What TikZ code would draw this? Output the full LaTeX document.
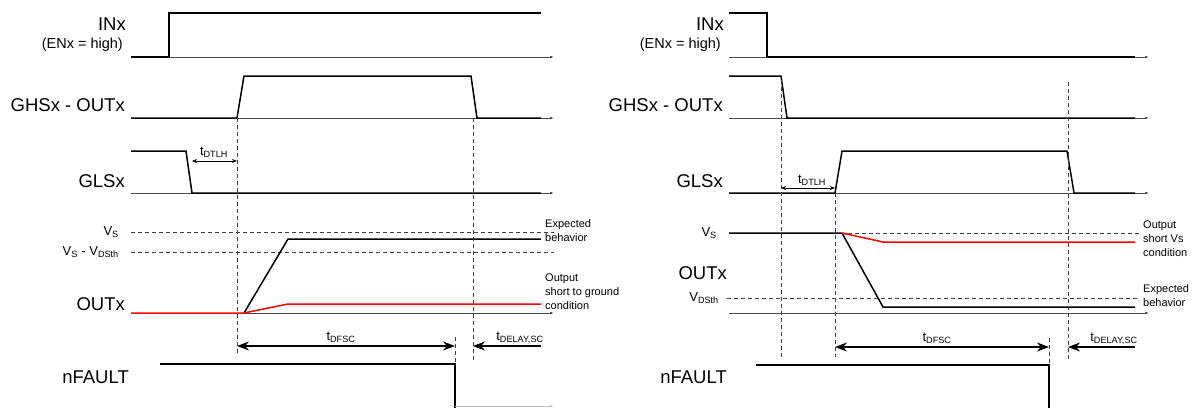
\documentclass[tikz,border=0pt]{standalone}
\usepackage{fontspec}
\setmainfont{Liberation Sans}
\usetikzlibrary{arrows.meta}

\tikzset{
  sig/.style={line width=1.5pt},
  axis/.style={line width=0.6pt, black!70, -{Latex[length=4pt,width=2.5pt]}},
  guide/.style={line width=0.7pt, black!75, dash pattern=on 4pt off 3pt},
  bigspan/.style={line width=1.1pt, {Stealth[length=12pt,width=9pt]}-{Stealth[length=12pt,width=9pt]}},
  halfspan/.style={line width=1.1pt, -{Stealth[length=12pt,width=9pt]}},
  smallspan/.style={line width=0.8pt, {Stealth[length=5pt,width=4pt]}-{Stealth[length=5pt,width=4pt]}},
  biglabel/.style={anchor=base east, inner sep=0pt, font=\fontsize{18.5}{20}\selectfont},
  smalllabel/.style={anchor=base east, inner sep=0pt, font=\fontsize{14.5}{16}\selectfont},
  level/.style={anchor=east, inner sep=0pt, font=\fontsize{13}{15}\selectfont},
  note/.style={anchor=west, align=left, inner sep=0pt, font=\fontsize{11}{14}\selectfont},
  tlabel/.style={anchor=base, inner sep=0pt, font=\fontsize{13}{15}\selectfont}
}

\begin{document}
\begin{tikzpicture}[x=1pt, y=-1pt]
  \useasboundingbox (0,0) rectangle (1204,407);

  \foreach \p/\dx/\xe in {l/0/554, r/598/1149} {
    \node[biglabel] (inx\p) at (126+\dx,30) {INx};
    \node[smalllabel] (enx\p) at (123+\dx,48) {(ENx = high)};
    \node[biglabel] (ghs\p) at (125+\dx,111) {GHSx - OUTx};
    \node[biglabel] (gls\p) at (125+\dx,187) {GLSx};
    \node[biglabel] (nfault\p) at (129+\dx,383) {nFAULT};
    \foreach \y in {57,118,193,313}
      \draw[axis] (131+\dx,\y) -- (\xe,\y);
  }

  \draw[sig] (131,57) -- (169,57) -- (169,13) -- (541,13);
  \draw[sig] (131,118) -- (237,118) -- (244,76) -- (471,76) -- (477,118) -- (541,118);
  \draw[sig] (131,151) -- (186,151) -- (192,193) -- (541,193);
  \draw[guide] (131,232) -- (554,232);
  \draw[guide] (131,252) -- (554,252);
  \node[level] (vsl) at (119,232) {V\textsubscript{S}};
  \node[level] (vsdsl) at (119,252) {V\textsubscript{S} - V\textsubscript{DSth}};
  \node[biglabel] (outxl) at (125,310) {OUTx};
  \draw[sig] (244,313) -- (288,239) -- (541,239);
  \draw[sig, red] (131,313) -- (244,313) -- (288,304) -- (541,304);
  \node[note] (expl) at (545,231) {Expected\\behavior};
  \node[note] (shortl) at (545,292) {Output\\short to ground\\condition};

  \coordinate (onl) at (237,118);
  \coordinate (offl) at (473,118);
  \coordinate (fltl) at (455,337);
  \draw[guide] (onl) -- ++(0,238);
  \draw[guide] (offl) -- ++(0,242);
  \draw[guide] (fltl) -- ++(0,70);
  \coordinate (dtlhl) at (192,161);
  \draw[smallspan] (dtlhl) -- (dtlhl -| onl);
  \node[tlabel] (tdtlhl) at (214,155) {t\textsubscript{DTLH}};
  \coordinate (dfscl) at (237,346);
  \draw[bigspan] (dfscl) -- (dfscl -| fltl);
  \node[tlabel] (tdfscl) at (341,340) {t\textsubscript{DFSC}};
  \coordinate (delayl) at (541,346);
  \draw[halfspan] (delayl) -- (delayl -| offl);
  \node[tlabel] (tdelayl) at (520,340) {t\textsubscript{DELAY,SC}};
  \draw[sig] (160,364) -- (455,364) -- (455,408);
  \draw[axis, black!25] (455,406) -- (554,406);

  \draw[sig] (729,13) -- (767,13) -- (767,57) -- (1135,57);
  \draw[sig] (729,76) -- (781,76) -- (787,118) -- (1135,118);
  \draw[sig] (729,193) -- (835,193) -- (842,151) -- (1067,151) -- (1074,193) -- (1135,193);
  \draw[guide] (729,233) -- (1139,233);
  \draw[guide] (727,298) -- (1139,298);
  \node[level] (vsr) at (717,233) {V\textsubscript{S}};
  \node[level] (vdsr) at (719,298) {V\textsubscript{DSth}};
  \node[biglabel] (outxr) at (727,279) {OUTx};
  \draw[sig] (729,233) -- (842,233) -- (883,307) -- (1135,307);
  \draw[sig, red] (842,233) -- (883,242) -- (1135,242);
  \node[note] (shortr) at (1143,239) {Output\\short Vs\\condition};
  \node[note] (expr) at (1143,295.5) {Expected\\behavior};

  \coordinate (offr) at (781,80);
  \coordinate (onr) at (835,193);
  \coordinate (endr) at (1068,82);
  \coordinate (fltr) at (1049,338);
  \draw[guide] (offr) -- ++(0,277);
  \draw[guide] (onr) -- ++(0,164);
  \draw[guide] (endr) -- ++(0,278);
  \draw[guide] (fltr) -- ++(0,69);
  \coordinate (dtlhr) at (781,188);
  \draw[smallspan] (dtlhr) -- (dtlhr -| onr);
  \node[tlabel] (tdtlhr) at (812,183) {t\textsubscript{DTLH}};
  \coordinate (dfscr) at (835,347);
  \draw[bigspan] (dfscr) -- (dfscr -| fltr);
  \node[tlabel] (tdfscr) at (937,341) {t\textsubscript{DFSC}};
  \coordinate (delayr) at (1135,347);
  \draw[halfspan] (delayr) -- (delayr -| endr);
  \node[tlabel] (tdelayr) at (1114,341) {t\textsubscript{DELAY,SC}};
  \draw[sig] (756,365) -- (1049,365) -- (1049,408);
\end{tikzpicture}
\end{document}
